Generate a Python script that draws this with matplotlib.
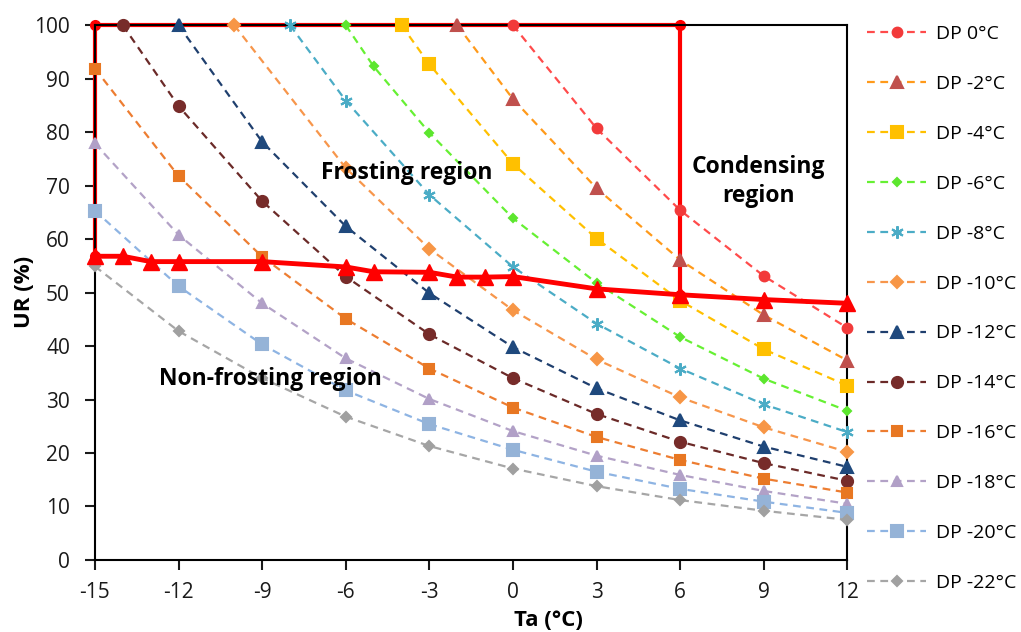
import matplotlib
matplotlib.use('Agg')
from matplotlib import pyplot as plt

plt.rcParams['font.family'] = ['Open Sans', 'DejaVu Sans']
plt.rcParams['axes.unicode_minus'] = False

# air temperature Ta (°C) and relative humidity UR (%) for each dew point
ta_dp0 = [0, 3, 6, 9, 12]
ur_dp0 = [100, 80.7, 65.4, 53.1, 43.4]
ta_dp2 = [-2, 0, 3, 6, 9, 12]
ur_dp2 = [100, 86.2, 69.5, 56.1, 45.8, 37.3]
ta_dp4 = [-4, -3, 0, 3, 6, 9, 12]
ur_dp4 = [100, 92.7, 74.1, 60.1, 48.5, 39.4, 32.6]
ta_dp6 = [-6, -5, -3, 0, 3, 6, 9, 12]
ur_dp6 = [100, 92.3, 79.9, 63.9, 51.8, 41.7, 33.9, 27.9]
ta_dp8 = [-8, -6, -3, 0, 3, 6, 9, 12]
ur_dp8 = [100, 85.9, 68.3, 54.8, 44.2, 35.8, 29.1, 23.9]
ta_dp10 = [-10, -6, -3, 0, 3, 6, 9, 12]
ur_dp10 = [100, 73.3, 58.2, 46.7, 37.5, 30.4, 24.8, 20.2]
ta_dp12 = [-12, -9, -6, -3, 0, 3, 6, 9, 12]
ur_dp12 = [100, 78.2, 62.4, 49.9, 39.8, 32.1, 26.1, 21.2, 17.4]
ta_dp14 = [-14, -12, -9, -6, -3, 0, 3, 6, 9, 12]
ur_dp14 = [100, 84.9, 67.1, 53.0, 42.2, 34.0, 27.3, 22.1, 18.1, 14.8]
ta_dp16 = [-15, -12, -9, -6, -3, 0, 3, 6, 9, 12]
ur_dp16 = [91.9, 71.8, 56.7, 45.1, 35.8, 28.5, 23.0, 18.7, 15.2, 12.6]
ta_dp18 = [-15, -12, -9, -6, -3, 0, 3, 6, 9, 12]
ur_dp18 = [77.9, 60.8, 48.0, 37.7, 30.1, 24.1, 19.5, 15.9, 12.9, 10.5]
ta_dp20 = [-15, -12, -9, -6, -3, 0, 3, 6, 9, 12]
ur_dp20 = [65.3, 51.2, 40.3, 31.7, 25.4, 20.6, 16.5, 13.3, 10.9, 8.8]
ta_dp22 = [-15, -12, -9, -6, -3, 0, 3, 6, 9, 12]
ur_dp22 = [54.9, 42.8, 34.0, 26.8, 21.3, 17.1, 13.8, 11.2, 9.2, 7.5]

# frosting threshold
ta_lim = [-15, -14, -13, -12, -9, -6, -5, -3, -2, -1, 0, 3, 6, 9, 12]
ur_lim = [56.8, 56.8, 55.8, 55.8, 55.8, 54.8, 53.9, 53.8, 52.9, 52.9, 53.0, 50.7, 49.6, 48.7, 48.0]

# frosting region box
ta_box = [-15, -15, 6, 6]
ur_box = [56.8, 100, 100, 49.6]

series = [
    ('DP 0°C', ta_dp0, ur_dp0, '#FF4B4B', 'o', '#F23A3A', 7),
    ('DP -2°C', ta_dp2, ur_dp2, '#FF9A1A', '^', '#C0504D', 8),
    ('DP -4°C', ta_dp4, ur_dp4, '#FFC000', 's', '#FFC000', 8),
    ('DP -6°C', ta_dp6, ur_dp6, '#66F033', 'D', '#5CE62E', 4.5),
    ('DP -8°C', ta_dp8, ur_dp8, '#4BACC6', (6, 2, 0), '#4BACC6', 9),
    ('DP -10°C', ta_dp10, ur_dp10, '#F7964B', 'D', '#F79646', 6),
    ('DP -12°C', ta_dp12, ur_dp12, '#1F3F6E', '^', '#1F497D', 8),
    ('DP -14°C', ta_dp14, ur_dp14, '#6B2A28', 'o', '#772C2A', 8),
    ('DP -16°C', ta_dp16, ur_dp16, '#ED7D31', 's', '#E87722', 6.5),
    ('DP -18°C', ta_dp18, ur_dp18, '#B3A2C7', '^', '#B1A0C7', 6.5),
    ('DP -20°C', ta_dp20, ur_dp20, '#8EB4E3', 's', '#95B3D7', 8),
    ('DP -22°C', ta_dp22, ur_dp22, '#A6A6A6', 'D', '#A0A0A0', 5),
]

fig = plt.figure(figsize=(10.21, 6.32), dpi=100)
ax = fig.add_axes([0.093, 0.114, 0.737, 0.846])

ax.plot(ta_box, ur_box, color='#FF0000', lw=3, marker='o', ms=7, zorder=2,
        clip_on=False)

for name, x, y, lc, mk, mc, ms in series:
    ax.plot(x, y, color=lc, lw=1.6, ls=(0, (3.5, 2.5)), marker=mk, ms=ms,
            markerfacecolor=mc, markeredgecolor=mc, markeredgewidth=1.5,
            label=name, zorder=3, clip_on=False)

ax.plot(ta_lim, ur_lim, color='#FF0000', lw=3.5, marker='^', ms=11, zorder=4,
        clip_on=False)

ax.set_xlim(-15, 12)
ax.set_ylim(0, 100)
ax.set_xticks(range(-15, 13, 3))
ax.set_yticks(range(0, 101, 10))
ax.tick_params(direction='out', length=7, width=1.5, labelsize=15,
               colors='#1a1a1a')
ax.tick_params(axis='x', pad=9)
ax.tick_params(axis='y', pad=11)
for s in ax.spines.values():
    s.set_linewidth(1.5)
    s.set_color('black')

# axis titles placed as in the original
fig.text(24 / 1021, 1 - 292 / 632, 'UR (%)', fontsize=16, fontweight='bold',
         ha='center', va='center', rotation=90)
fig.text(548 / 1021, 1 - 620 / 632, 'Ta (°C)', fontsize=16, fontweight='bold',
         ha='center', va='center')

ax.text(-3.8, 72.3, 'Frosting region', fontsize=16.5, fontweight='bold',
        ha='center', va='center')
ax.text(8.8, 70.8, 'Condensing\nregion', fontsize=16.5, fontweight='bold',
        ha='center', va='center', linespacing=1.3)
ax.text(-8.7, 33.8, 'Non-frosting region', fontsize=16.5, fontweight='bold',
        ha='center', va='center')

fig.legend(loc='upper left', bbox_to_anchor=(0.842, 0.9726), frameon=False,
           fontsize=14, labelspacing=1.64, handlelength=3.0, handletextpad=0.55,
           borderaxespad=0)

fig.savefig('out.png', dpi=100)
